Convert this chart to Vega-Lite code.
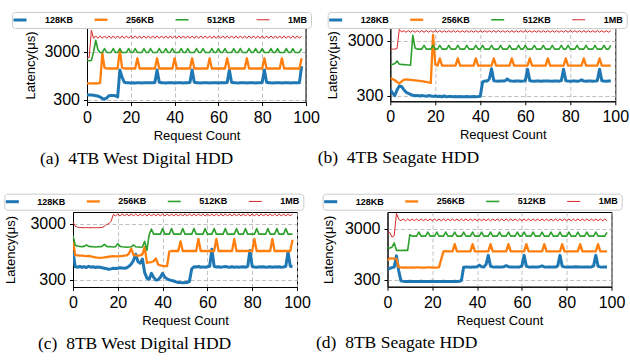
{
"$schema": "https://vega.github.io/schema/vega-lite/v6.json",
"padding": {"left": 3, "top": 11, "right": 0, "bottom": 0},
"spacing": 25,
"resolve": {"scale": {"color": "independent", "strokeWidth": "independent"}, "legend": {"color": "independent", "strokeWidth": "independent"}},
"config": {
  "font": "Liberation Sans",
  "view": {"stroke": "#000", "strokeWidth": 1},
  "axis": {"labelFont": "Liberation Sans", "labelFontSize": 16, "labelColor": "#000", "titleFont": "Liberation Sans", "titleFontSize": 13, "titleFontWeight": "normal", "titleColor": "#000", "domainColor": "#000", "tickColor": "#000", "tickSize": 3.5, "labelPadding": 4, "gridColor": "#b0b0b0", "gridDash": [4, 2.5], "gridWidth": 0.8, "grid": true, "labelFlush": false, "labelOverlap": false},
  "axisX": {"titlePadding": 4},
  "legend": {"symbolSize": 42.25, "symbolOffset": 0, "labelFont": "Liberation Sans", "labelFontSize": 9, "labelFontWeight": "bold", "labelColor": "#000", "labelOffset": 20, "columnPadding": 19, "padding": 3, "strokeColor": "#cccccc", "cornerRadius": 3, "fillColor": "#ffffff", "gridAlign": "all", "rowPadding": 0},
  "title": {"orient": "bottom", "anchor": "start", "frame": "group", "font": "Liberation Serif", "fontSize": 17.5, "fontWeight": "normal", "color": "#000", "offset": 7, "baseline": "top"},
  "line": {"strokeJoin": "round"}
},
"datasets": {
"a": [
{"x":0,"128KB":385,"256KB":660,"512KB":2000,"1MB":2250},
{"x":1,"128KB":382,"256KB":660,"512KB":1950,"1MB":2300},
{"x":2,"128KB":378,"256KB":662,"512KB":1980,"1MB":8400},
{"x":3,"128KB":374,"256KB":660,"512KB":3000,"1MB":5700},
{"x":4,"128KB":368,"256KB":658,"512KB":5200,"1MB":6400},
{"x":5,"128KB":362,"256KB":660,"512KB":3300,"1MB":5700},
{"x":6,"128KB":345,"256KB":680,"512KB":2900,"1MB":6400},
{"x":7,"128KB":322,"256KB":2800,"512KB":2900,"1MB":5700},
{"x":8,"128KB":312,"256KB":1400,"512KB":3500,"1MB":6400},
{"x":9,"128KB":330,"256KB":1350,"512KB":2900,"1MB":5700},
{"x":10,"128KB":368,"256KB":1350,"512KB":2900,"1MB":6400},
{"x":11,"128KB":372,"256KB":1350,"512KB":2900,"1MB":5700},
{"x":12,"128KB":370,"256KB":1350,"512KB":3500,"1MB":6400},
{"x":13,"128KB":366,"256KB":1350,"512KB":2900,"1MB":5700},
{"x":14,"128KB":345,"256KB":1350,"512KB":2900,"1MB":6400},
{"x":15,"128KB":1250,"256KB":3300,"512KB":3500,"1MB":5700},
{"x":16,"128KB":900,"256KB":1400,"512KB":2900,"1MB":6400},
{"x":17,"128KB":700,"256KB":1350,"512KB":2900,"1MB":5700},
{"x":18,"128KB":685,"256KB":1350,"512KB":2900,"1MB":6400},
{"x":19,"128KB":680,"256KB":1350,"512KB":3500,"1MB":5700},
{"x":20,"128KB":675,"256KB":1350,"512KB":2900,"1MB":6400},
{"x":21,"128KB":680,"256KB":1350,"512KB":2900,"1MB":5700},
{"x":22,"128KB":678,"256KB":1350,"512KB":3500,"1MB":6400},
{"x":23,"128KB":682,"256KB":2200,"512KB":2900,"1MB":5700},
{"x":24,"128KB":680,"256KB":1350,"512KB":2900,"1MB":6400},
{"x":25,"128KB":676,"256KB":1350,"512KB":2900,"1MB":5700},
{"x":26,"128KB":680,"256KB":1350,"512KB":3500,"1MB":6400},
{"x":27,"128KB":683,"256KB":1350,"512KB":2900,"1MB":5700},
{"x":28,"128KB":679,"256KB":1350,"512KB":2900,"1MB":6400},
{"x":29,"128KB":680,"256KB":1350,"512KB":3500,"1MB":5700},
{"x":30,"128KB":682,"256KB":1350,"512KB":2900,"1MB":6400},
{"x":31,"128KB":690,"256KB":1350,"512KB":2900,"1MB":5700},
{"x":32,"128KB":1250,"256KB":2200,"512KB":2900,"1MB":6400},
{"x":33,"128KB":700,"256KB":1350,"512KB":3500,"1MB":5700},
{"x":34,"128KB":685,"256KB":1350,"512KB":2900,"1MB":6400},
{"x":35,"128KB":680,"256KB":1350,"512KB":2900,"1MB":5700},
{"x":36,"128KB":678,"256KB":1350,"512KB":3500,"1MB":6400},
{"x":37,"128KB":680,"256KB":1350,"512KB":2900,"1MB":5700},
{"x":38,"128KB":682,"256KB":1350,"512KB":2900,"1MB":6400},
{"x":39,"128KB":680,"256KB":1350,"512KB":3500,"1MB":5700},
{"x":40,"128KB":677,"256KB":2200,"512KB":2900,"1MB":6400},
{"x":41,"128KB":680,"256KB":1350,"512KB":2900,"1MB":5700},
{"x":42,"128KB":683,"256KB":1350,"512KB":2900,"1MB":6400},
{"x":43,"128KB":680,"256KB":1350,"512KB":3500,"1MB":5700},
{"x":44,"128KB":678,"256KB":1350,"512KB":2900,"1MB":6400},
{"x":45,"128KB":680,"256KB":1350,"512KB":2900,"1MB":5700},
{"x":46,"128KB":682,"256KB":1350,"512KB":3500,"1MB":6400},
{"x":47,"128KB":690,"256KB":1350,"512KB":2900,"1MB":5700},
{"x":48,"128KB":1250,"256KB":2200,"512KB":2900,"1MB":6400},
{"x":49,"128KB":700,"256KB":1350,"512KB":2900,"1MB":5700},
{"x":50,"128KB":685,"256KB":1350,"512KB":3500,"1MB":6400},
{"x":51,"128KB":680,"256KB":1350,"512KB":2900,"1MB":5700},
{"x":52,"128KB":678,"256KB":1350,"512KB":2900,"1MB":6400},
{"x":53,"128KB":680,"256KB":1350,"512KB":3500,"1MB":5700},
{"x":54,"128KB":682,"256KB":1350,"512KB":2900,"1MB":6400},
{"x":55,"128KB":680,"256KB":1350,"512KB":2900,"1MB":5700},
{"x":56,"128KB":677,"256KB":2200,"512KB":2900,"1MB":6400},
{"x":57,"128KB":680,"256KB":1350,"512KB":3500,"1MB":5700},
{"x":58,"128KB":683,"256KB":1350,"512KB":2900,"1MB":6400},
{"x":59,"128KB":680,"256KB":1350,"512KB":2900,"1MB":5700},
{"x":60,"128KB":678,"256KB":1350,"512KB":3500,"1MB":6400},
{"x":61,"128KB":680,"256KB":1350,"512KB":2900,"1MB":5700},
{"x":62,"128KB":682,"256KB":1350,"512KB":2900,"1MB":6400},
{"x":63,"128KB":680,"256KB":1350,"512KB":3500,"1MB":5700},
{"x":64,"128KB":690,"256KB":2200,"512KB":2900,"1MB":6400},
{"x":65,"128KB":1250,"256KB":1350,"512KB":2900,"1MB":5700},
{"x":66,"128KB":700,"256KB":1350,"512KB":2900,"1MB":6400},
{"x":67,"128KB":685,"256KB":1350,"512KB":3500,"1MB":5700},
{"x":68,"128KB":680,"256KB":1350,"512KB":2900,"1MB":6400},
{"x":69,"128KB":678,"256KB":1350,"512KB":2900,"1MB":5700},
{"x":70,"128KB":680,"256KB":1350,"512KB":3500,"1MB":6400},
{"x":71,"128KB":682,"256KB":1350,"512KB":2900,"1MB":5700},
{"x":72,"128KB":680,"256KB":1350,"512KB":2900,"1MB":6400},
{"x":73,"128KB":677,"256KB":2200,"512KB":2900,"1MB":5700},
{"x":74,"128KB":680,"256KB":1350,"512KB":3500,"1MB":6400},
{"x":75,"128KB":683,"256KB":1350,"512KB":2900,"1MB":5700},
{"x":76,"128KB":680,"256KB":1350,"512KB":2900,"1MB":6400},
{"x":77,"128KB":678,"256KB":1350,"512KB":3500,"1MB":5700},
{"x":78,"128KB":680,"256KB":1350,"512KB":2900,"1MB":6400},
{"x":79,"128KB":682,"256KB":1350,"512KB":2900,"1MB":5700},
{"x":80,"128KB":690,"256KB":1350,"512KB":3500,"1MB":6400},
{"x":81,"128KB":1250,"256KB":2200,"512KB":2900,"1MB":5700},
{"x":82,"128KB":700,"256KB":1350,"512KB":2900,"1MB":6400},
{"x":83,"128KB":685,"256KB":1350,"512KB":2900,"1MB":5700},
{"x":84,"128KB":680,"256KB":1350,"512KB":3500,"1MB":6400},
{"x":85,"128KB":678,"256KB":1350,"512KB":2900,"1MB":5700},
{"x":86,"128KB":680,"256KB":1350,"512KB":2900,"1MB":6400},
{"x":87,"128KB":682,"256KB":1350,"512KB":3500,"1MB":5700},
{"x":88,"128KB":680,"256KB":1350,"512KB":2900,"1MB":6400},
{"x":89,"128KB":677,"256KB":2200,"512KB":2900,"1MB":5700},
{"x":90,"128KB":680,"256KB":1350,"512KB":2900,"1MB":6400},
{"x":91,"128KB":683,"256KB":1350,"512KB":3500,"1MB":5700},
{"x":92,"128KB":680,"256KB":1350,"512KB":2900,"1MB":6400},
{"x":93,"128KB":678,"256KB":1350,"512KB":2900,"1MB":5700},
{"x":94,"128KB":680,"256KB":1350,"512KB":3500,"1MB":6400},
{"x":95,"128KB":682,"256KB":1350,"512KB":2900,"1MB":5700},
{"x":96,"128KB":680,"256KB":1350,"512KB":2900,"1MB":6400},
{"x":97,"128KB":685,"256KB":1350,"512KB":2900,"1MB":5700},
{"x":98,"128KB":1500,"256KB":2200,"512KB":3500,"1MB":6400}
],
"b": [
{"x":0,"128KB":390,"256KB":620,"512KB":1100,"1MB":2100},
{"x":1,"128KB":330,"256KB":600,"512KB":1100,"1MB":2100},
{"x":2,"128KB":300,"256KB":570,"512KB":1150,"1MB":2100},
{"x":3,"128KB":380,"256KB":530,"512KB":1280,"1MB":2150},
{"x":4,"128KB":450,"256KB":500,"512KB":1120,"1MB":4800},
{"x":5,"128KB":440,"256KB":540,"512KB":1100,"1MB":4300},
{"x":6,"128KB":385,"256KB":580,"512KB":1095,"1MB":4550},
{"x":7,"128KB":345,"256KB":590,"512KB":1090,"1MB":4250},
{"x":8,"128KB":330,"256KB":585,"512KB":1080,"1MB":4550},
{"x":9,"128KB":315,"256KB":578,"512KB":1070,"1MB":4250},
{"x":10,"128KB":305,"256KB":572,"512KB":3750,"1MB":4550},
{"x":11,"128KB":298,"256KB":566,"512KB":2200,"1MB":4250},
{"x":12,"128KB":302,"256KB":560,"512KB":2100,"1MB":4550},
{"x":13,"128KB":295,"256KB":555,"512KB":2100,"1MB":4250},
{"x":14,"128KB":300,"256KB":548,"512KB":2100,"1MB":4550},
{"x":15,"128KB":296,"256KB":540,"512KB":2450,"1MB":4250},
{"x":16,"128KB":292,"256KB":532,"512KB":2100,"1MB":4550},
{"x":17,"128KB":300,"256KB":520,"512KB":2100,"1MB":4250},
{"x":18,"128KB":295,"256KB":510,"512KB":2100,"1MB":4550},
{"x":19,"128KB":290,"256KB":3800,"512KB":2450,"1MB":4250},
{"x":20,"128KB":294,"256KB":1100,"512KB":2100,"1MB":4550},
{"x":21,"128KB":288,"256KB":1050,"512KB":2100,"1MB":4250},
{"x":22,"128KB":292,"256KB":1420,"512KB":2450,"1MB":4550},
{"x":23,"128KB":286,"256KB":1050,"512KB":2100,"1MB":4250},
{"x":24,"128KB":295,"256KB":1050,"512KB":2100,"1MB":4550},
{"x":25,"128KB":284,"256KB":1050,"512KB":2100,"1MB":4250},
{"x":26,"128KB":290,"256KB":1050,"512KB":2450,"1MB":4550},
{"x":27,"128KB":288,"256KB":1050,"512KB":2100,"1MB":4250},
{"x":28,"128KB":286,"256KB":1050,"512KB":2100,"1MB":4550},
{"x":29,"128KB":288,"256KB":1050,"512KB":2100,"1MB":4250},
{"x":30,"128KB":287,"256KB":1420,"512KB":2450,"1MB":4550},
{"x":31,"128KB":288,"256KB":1050,"512KB":2100,"1MB":4250},
{"x":32,"128KB":286,"256KB":1050,"512KB":2100,"1MB":4550},
{"x":33,"128KB":287,"256KB":1050,"512KB":2100,"1MB":4250},
{"x":34,"128KB":288,"256KB":1050,"512KB":2450,"1MB":4550},
{"x":35,"128KB":287,"256KB":1050,"512KB":2100,"1MB":4250},
{"x":36,"128KB":286,"256KB":1050,"512KB":2100,"1MB":4550},
{"x":37,"128KB":288,"256KB":1050,"512KB":2100,"1MB":4250},
{"x":38,"128KB":287,"256KB":1420,"512KB":2450,"1MB":4550},
{"x":39,"128KB":288,"256KB":1050,"512KB":2100,"1MB":4250},
{"x":40,"128KB":292,"256KB":1050,"512KB":2100,"1MB":4550},
{"x":41,"128KB":530,"256KB":1050,"512KB":2450,"1MB":4250},
{"x":42,"128KB":550,"256KB":1050,"512KB":2100,"1MB":4550},
{"x":43,"128KB":550,"256KB":1050,"512KB":2100,"1MB":4250},
{"x":44,"128KB":600,"256KB":1050,"512KB":2100,"1MB":4550},
{"x":45,"128KB":920,"256KB":1050,"512KB":2450,"1MB":4250},
{"x":46,"128KB":560,"256KB":1420,"512KB":2100,"1MB":4550},
{"x":47,"128KB":550,"256KB":1050,"512KB":2100,"1MB":4250},
{"x":48,"128KB":548,"256KB":1050,"512KB":2100,"1MB":4550},
{"x":49,"128KB":552,"256KB":1050,"512KB":2450,"1MB":4250},
{"x":50,"128KB":550,"256KB":1050,"512KB":2100,"1MB":4550},
{"x":51,"128KB":555,"256KB":1050,"512KB":2100,"1MB":4250},
{"x":52,"128KB":600,"256KB":1050,"512KB":2100,"1MB":4550},
{"x":53,"128KB":560,"256KB":1050,"512KB":2450,"1MB":4250},
{"x":54,"128KB":550,"256KB":1420,"512KB":2100,"1MB":4550},
{"x":55,"128KB":548,"256KB":1050,"512KB":2100,"1MB":4250},
{"x":56,"128KB":552,"256KB":1050,"512KB":2100,"1MB":4550},
{"x":57,"128KB":550,"256KB":1050,"512KB":2450,"1MB":4250},
{"x":58,"128KB":548,"256KB":1050,"512KB":2100,"1MB":4550},
{"x":59,"128KB":552,"256KB":1050,"512KB":2100,"1MB":4250},
{"x":60,"128KB":560,"256KB":1050,"512KB":2450,"1MB":4550},
{"x":61,"128KB":900,"256KB":1050,"512KB":2100,"1MB":4250},
{"x":62,"128KB":560,"256KB":1420,"512KB":2100,"1MB":4550},
{"x":63,"128KB":550,"256KB":1050,"512KB":2100,"1MB":4250},
{"x":64,"128KB":548,"256KB":1050,"512KB":2450,"1MB":4550},
{"x":65,"128KB":552,"256KB":1050,"512KB":2100,"1MB":4250},
{"x":66,"128KB":550,"256KB":1050,"512KB":2100,"1MB":4550},
{"x":67,"128KB":548,"256KB":1050,"512KB":2100,"1MB":4250},
{"x":68,"128KB":552,"256KB":1050,"512KB":2450,"1MB":4550},
{"x":69,"128KB":550,"256KB":1050,"512KB":2100,"1MB":4250},
{"x":70,"128KB":555,"256KB":1420,"512KB":2100,"1MB":4550},
{"x":71,"128KB":550,"256KB":1050,"512KB":2100,"1MB":4250},
{"x":72,"128KB":548,"256KB":1050,"512KB":2450,"1MB":4550},
{"x":73,"128KB":552,"256KB":1050,"512KB":2100,"1MB":4250},
{"x":74,"128KB":550,"256KB":1050,"512KB":2100,"1MB":4550},
{"x":75,"128KB":548,"256KB":1050,"512KB":2100,"1MB":4250},
{"x":76,"128KB":560,"256KB":1050,"512KB":2450,"1MB":4550},
{"x":77,"128KB":900,"256KB":1050,"512KB":2100,"1MB":4250},
{"x":78,"128KB":560,"256KB":1420,"512KB":2100,"1MB":4550},
{"x":79,"128KB":550,"256KB":1050,"512KB":2450,"1MB":4250},
{"x":80,"128KB":548,"256KB":1050,"512KB":2100,"1MB":4550},
{"x":81,"128KB":552,"256KB":1050,"512KB":2100,"1MB":4250},
{"x":82,"128KB":550,"256KB":1050,"512KB":2100,"1MB":4550},
{"x":83,"128KB":548,"256KB":1050,"512KB":2450,"1MB":4250},
{"x":84,"128KB":552,"256KB":1050,"512KB":2100,"1MB":4550},
{"x":85,"128KB":580,"256KB":1050,"512KB":2100,"1MB":4250},
{"x":86,"128KB":550,"256KB":1420,"512KB":2100,"1MB":4550},
{"x":87,"128KB":548,"256KB":1050,"512KB":2450,"1MB":4250},
{"x":88,"128KB":552,"256KB":1050,"512KB":2100,"1MB":4550},
{"x":89,"128KB":550,"256KB":1050,"512KB":2100,"1MB":4250},
{"x":90,"128KB":548,"256KB":1050,"512KB":2100,"1MB":4550},
{"x":91,"128KB":552,"256KB":1050,"512KB":2450,"1MB":4250},
{"x":92,"128KB":560,"256KB":1050,"512KB":2100,"1MB":4550},
{"x":93,"128KB":900,"256KB":1420,"512KB":2100,"1MB":4250},
{"x":94,"128KB":560,"256KB":1050,"512KB":2100,"1MB":4550},
{"x":95,"128KB":550,"256KB":1050,"512KB":2450,"1MB":4250},
{"x":96,"128KB":548,"256KB":1050,"512KB":2100,"1MB":4550},
{"x":97,"128KB":552,"256KB":1050,"512KB":2100,"1MB":4250},
{"x":98,"128KB":550,"256KB":1050,"512KB":2450,"1MB":4550}
],
"c": [
{"x":0,"128KB":950,"256KB":1450,"512KB":1850,"1MB":3200},
{"x":1,"128KB":510,"256KB":820,"512KB":1230,"1MB":2700},
{"x":2,"128KB":500,"256KB":812,"512KB":1200,"1MB":2600},
{"x":3,"128KB":520,"256KB":805,"512KB":1180,"1MB":2560},
{"x":4,"128KB":500,"256KB":810,"512KB":1170,"1MB":2550},
{"x":5,"128KB":512,"256KB":800,"512KB":1180,"1MB":2540},
{"x":6,"128KB":495,"256KB":792,"512KB":1250,"1MB":2550},
{"x":7,"128KB":520,"256KB":800,"512KB":1180,"1MB":2545},
{"x":8,"128KB":502,"256KB":785,"512KB":1170,"1MB":2540},
{"x":9,"128KB":510,"256KB":765,"512KB":1160,"1MB":2550},
{"x":10,"128KB":495,"256KB":750,"512KB":1150,"1MB":2540},
{"x":11,"128KB":505,"256KB":740,"512KB":1160,"1MB":2545},
{"x":12,"128KB":500,"256KB":738,"512KB":1170,"1MB":2550},
{"x":13,"128KB":490,"256KB":742,"512KB":1180,"1MB":2560},
{"x":14,"128KB":480,"256KB":750,"512KB":1280,"1MB":2700},
{"x":15,"128KB":470,"256KB":760,"512KB":1180,"1MB":2900},
{"x":16,"128KB":460,"256KB":770,"512KB":1170,"1MB":3000},
{"x":17,"128KB":468,"256KB":780,"512KB":1160,"1MB":3300},
{"x":18,"128KB":480,"256KB":790,"512KB":1150,"1MB":4400},
{"x":19,"128KB":475,"256KB":785,"512KB":1160,"1MB":4100},
{"x":20,"128KB":482,"256KB":782,"512KB":1320,"1MB":4500},
{"x":21,"128KB":490,"256KB":790,"512KB":1180,"1MB":4100},
{"x":22,"128KB":485,"256KB":795,"512KB":1160,"1MB":4500},
{"x":23,"128KB":480,"256KB":805,"512KB":1150,"1MB":4100},
{"x":24,"128KB":490,"256KB":815,"512KB":1140,"1MB":4500},
{"x":25,"128KB":520,"256KB":880,"512KB":1150,"1MB":4100},
{"x":26,"128KB":570,"256KB":1080,"512KB":1160,"1MB":4500},
{"x":27,"128KB":660,"256KB":830,"512KB":1250,"1MB":4100},
{"x":28,"128KB":850,"256KB":812,"512KB":1160,"1MB":4500},
{"x":29,"128KB":630,"256KB":805,"512KB":1150,"1MB":4100},
{"x":30,"128KB":590,"256KB":815,"512KB":1140,"1MB":4500},
{"x":31,"128KB":700,"256KB":850,"512KB":1150,"1MB":4100},
{"x":32,"128KB":400,"256KB":1150,"512KB":1450,"1MB":4500},
{"x":33,"128KB":320,"256KB":600,"512KB":1000,"1MB":4100},
{"x":34,"128KB":305,"256KB":610,"512KB":1900,"1MB":4500},
{"x":35,"128KB":390,"256KB":620,"512KB":2400,"1MB":4100},
{"x":36,"128KB":330,"256KB":640,"512KB":1950,"1MB":4500},
{"x":37,"128KB":295,"256KB":720,"512KB":1950,"1MB":4100},
{"x":38,"128KB":298,"256KB":560,"512KB":1950,"1MB":4500},
{"x":39,"128KB":330,"256KB":540,"512KB":1950,"1MB":4100},
{"x":40,"128KB":390,"256KB":530,"512KB":2450,"1MB":4500},
{"x":41,"128KB":330,"256KB":525,"512KB":1950,"1MB":4100},
{"x":42,"128KB":310,"256KB":525,"512KB":1950,"1MB":4500},
{"x":43,"128KB":298,"256KB":950,"512KB":1950,"1MB":4100},
{"x":44,"128KB":290,"256KB":975,"512KB":2450,"1MB":4500},
{"x":45,"128KB":284,"256KB":975,"512KB":1950,"1MB":4100},
{"x":46,"128KB":274,"256KB":975,"512KB":1950,"1MB":4500},
{"x":47,"128KB":268,"256KB":975,"512KB":1950,"1MB":4100},
{"x":48,"128KB":266,"256KB":1450,"512KB":1950,"1MB":4500},
{"x":49,"128KB":265,"256KB":975,"512KB":2450,"1MB":4100},
{"x":50,"128KB":266,"256KB":975,"512KB":1950,"1MB":4500},
{"x":51,"128KB":268,"256KB":975,"512KB":1950,"1MB":4100},
{"x":52,"128KB":280,"256KB":975,"512KB":1950,"1MB":4500},
{"x":53,"128KB":470,"256KB":975,"512KB":1950,"1MB":4100},
{"x":54,"128KB":510,"256KB":975,"512KB":2450,"1MB":4500},
{"x":55,"128KB":505,"256KB":975,"512KB":1950,"1MB":4100},
{"x":56,"128KB":515,"256KB":1600,"512KB":1950,"1MB":4500},
{"x":57,"128KB":500,"256KB":975,"512KB":1950,"1MB":4100},
{"x":58,"128KB":508,"256KB":975,"512KB":1950,"1MB":4500},
{"x":59,"128KB":502,"256KB":975,"512KB":2450,"1MB":4100},
{"x":60,"128KB":510,"256KB":975,"512KB":1950,"1MB":4500},
{"x":61,"128KB":520,"256KB":975,"512KB":1950,"1MB":4100},
{"x":62,"128KB":1050,"256KB":975,"512KB":1950,"1MB":4500},
{"x":63,"128KB":520,"256KB":975,"512KB":2450,"1MB":4100},
{"x":64,"128KB":505,"256KB":1600,"512KB":1950,"1MB":4500},
{"x":65,"128KB":510,"256KB":975,"512KB":1950,"1MB":4100},
{"x":66,"128KB":500,"256KB":975,"512KB":1950,"1MB":4500},
{"x":67,"128KB":508,"256KB":975,"512KB":1950,"1MB":4100},
{"x":68,"128KB":515,"256KB":975,"512KB":2450,"1MB":4500},
{"x":69,"128KB":505,"256KB":975,"512KB":1950,"1MB":4100},
{"x":70,"128KB":500,"256KB":975,"512KB":1950,"1MB":4500},
{"x":71,"128KB":510,"256KB":975,"512KB":1950,"1MB":4100},
{"x":72,"128KB":502,"256KB":1600,"512KB":1950,"1MB":4500},
{"x":73,"128KB":508,"256KB":975,"512KB":2450,"1MB":4100},
{"x":74,"128KB":500,"256KB":975,"512KB":1950,"1MB":4500},
{"x":75,"128KB":505,"256KB":975,"512KB":1950,"1MB":4100},
{"x":76,"128KB":510,"256KB":975,"512KB":1950,"1MB":4500},
{"x":77,"128KB":500,"256KB":975,"512KB":2450,"1MB":4100},
{"x":78,"128KB":520,"256KB":975,"512KB":1950,"1MB":4500},
{"x":79,"128KB":1000,"256KB":975,"512KB":1950,"1MB":4100},
{"x":80,"128KB":515,"256KB":975,"512KB":1950,"1MB":4500},
{"x":81,"128KB":505,"256KB":1600,"512KB":1950,"1MB":4100},
{"x":82,"128KB":500,"256KB":975,"512KB":2450,"1MB":4500},
{"x":83,"128KB":508,"256KB":975,"512KB":1950,"1MB":4100},
{"x":84,"128KB":505,"256KB":975,"512KB":1950,"1MB":4500},
{"x":85,"128KB":510,"256KB":975,"512KB":1950,"1MB":4100},
{"x":86,"128KB":500,"256KB":975,"512KB":1950,"1MB":4500},
{"x":87,"128KB":505,"256KB":975,"512KB":2450,"1MB":4100},
{"x":88,"128KB":512,"256KB":975,"512KB":1950,"1MB":4500},
{"x":89,"128KB":500,"256KB":1600,"512KB":1950,"1MB":4100},
{"x":90,"128KB":508,"256KB":975,"512KB":1950,"1MB":4500},
{"x":91,"128KB":505,"256KB":975,"512KB":2450,"1MB":4100},
{"x":92,"128KB":510,"256KB":975,"512KB":1950,"1MB":4500},
{"x":93,"128KB":500,"256KB":975,"512KB":1950,"1MB":4100},
{"x":94,"128KB":505,"256KB":975,"512KB":1950,"1MB":4500},
{"x":95,"128KB":520,"256KB":975,"512KB":2450,"1MB":4100},
{"x":96,"128KB":940,"256KB":975,"512KB":1950,"1MB":4500},
{"x":97,"128KB":520,"256KB":975,"512KB":1950,"1MB":4100},
{"x":98,"128KB":510,"256KB":1550,"512KB":1950,"1MB":4500}
],
"d": [
{"x":0,"128KB":490,"256KB":720,"512KB":1250,"1MB":2600},
{"x":1,"128KB":500,"256KB":790,"512KB":1250,"1MB":2550},
{"x":2,"128KB":520,"256KB":785,"512KB":1300,"1MB":2050},
{"x":3,"128KB":530,"256KB":775,"512KB":1580,"1MB":2200},
{"x":4,"128KB":880,"256KB":770,"512KB":1130,"1MB":6000},
{"x":5,"128KB":450,"256KB":530,"512KB":1130,"1MB":4600},
{"x":6,"128KB":285,"256KB":525,"512KB":1125,"1MB":4300},
{"x":7,"128KB":280,"256KB":520,"512KB":1130,"1MB":4650},
{"x":8,"128KB":278,"256KB":522,"512KB":1128,"1MB":4300},
{"x":9,"128KB":277,"256KB":520,"512KB":1130,"1MB":4650},
{"x":10,"128KB":279,"256KB":518,"512KB":2300,"1MB":4300},
{"x":11,"128KB":278,"256KB":522,"512KB":2150,"1MB":4650},
{"x":12,"128KB":276,"256KB":520,"512KB":2150,"1MB":4300},
{"x":13,"128KB":278,"256KB":524,"512KB":2150,"1MB":4650},
{"x":14,"128KB":277,"256KB":522,"512KB":2580,"1MB":4300},
{"x":15,"128KB":279,"256KB":520,"512KB":2150,"1MB":4650},
{"x":16,"128KB":278,"256KB":518,"512KB":2150,"1MB":4300},
{"x":17,"128KB":276,"256KB":520,"512KB":2150,"1MB":4650},
{"x":18,"128KB":278,"256KB":522,"512KB":2580,"1MB":4300},
{"x":19,"128KB":277,"256KB":524,"512KB":2150,"1MB":4650},
{"x":20,"128KB":279,"256KB":520,"512KB":2150,"1MB":4300},
{"x":21,"128KB":278,"256KB":518,"512KB":2150,"1MB":4650},
{"x":22,"128KB":276,"256KB":520,"512KB":2580,"1MB":4300},
{"x":23,"128KB":278,"256KB":530,"512KB":2150,"1MB":4650},
{"x":24,"128KB":277,"256KB":760,"512KB":2150,"1MB":4300},
{"x":25,"128KB":279,"256KB":1080,"512KB":2150,"1MB":4650},
{"x":26,"128KB":278,"256KB":1090,"512KB":2580,"1MB":4300},
{"x":27,"128KB":276,"256KB":1080,"512KB":2150,"1MB":4650},
{"x":28,"128KB":278,"256KB":1075,"512KB":2150,"1MB":4300},
{"x":29,"128KB":277,"256KB":1080,"512KB":2150,"1MB":4650},
{"x":30,"128KB":279,"256KB":1500,"512KB":2580,"1MB":4300},
{"x":31,"128KB":278,"256KB":1080,"512KB":2150,"1MB":4650},
{"x":32,"128KB":280,"256KB":1080,"512KB":2150,"1MB":4300},
{"x":33,"128KB":290,"256KB":1080,"512KB":2150,"1MB":4650},
{"x":34,"128KB":530,"256KB":1080,"512KB":2580,"1MB":4300},
{"x":35,"128KB":535,"256KB":1080,"512KB":2150,"1MB":4650},
{"x":36,"128KB":530,"256KB":1080,"512KB":2150,"1MB":4300},
{"x":37,"128KB":528,"256KB":1080,"512KB":2150,"1MB":4650},
{"x":38,"128KB":532,"256KB":1500,"512KB":2580,"1MB":4300},
{"x":39,"128KB":530,"256KB":1080,"512KB":2150,"1MB":4650},
{"x":40,"128KB":540,"256KB":1080,"512KB":2150,"1MB":4300},
{"x":41,"128KB":580,"256KB":1080,"512KB":2150,"1MB":4650},
{"x":42,"128KB":540,"256KB":1080,"512KB":2580,"1MB":4300},
{"x":43,"128KB":535,"256KB":1080,"512KB":2150,"1MB":4650},
{"x":44,"128KB":600,"256KB":1080,"512KB":2150,"1MB":4300},
{"x":45,"128KB":900,"256KB":1080,"512KB":2150,"1MB":4650},
{"x":46,"128KB":550,"256KB":1500,"512KB":2580,"1MB":4300},
{"x":47,"128KB":535,"256KB":1080,"512KB":2150,"1MB":4650},
{"x":48,"128KB":530,"256KB":1080,"512KB":2150,"1MB":4300},
{"x":49,"128KB":532,"256KB":1080,"512KB":2150,"1MB":4650},
{"x":50,"128KB":530,"256KB":1080,"512KB":2580,"1MB":4300},
{"x":51,"128KB":535,"256KB":1080,"512KB":2150,"1MB":4650},
{"x":52,"128KB":540,"256KB":1080,"512KB":2150,"1MB":4300},
{"x":53,"128KB":565,"256KB":1080,"512KB":2150,"1MB":4650},
{"x":54,"128KB":540,"256KB":1500,"512KB":2580,"1MB":4300},
{"x":55,"128KB":532,"256KB":1080,"512KB":2150,"1MB":4650},
{"x":56,"128KB":530,"256KB":1080,"512KB":2150,"1MB":4300},
{"x":57,"128KB":535,"256KB":1080,"512KB":2150,"1MB":4650},
{"x":58,"128KB":530,"256KB":1080,"512KB":2580,"1MB":4300},
{"x":59,"128KB":532,"256KB":1080,"512KB":2150,"1MB":4650},
{"x":60,"128KB":560,"256KB":1080,"512KB":2150,"1MB":4300},
{"x":61,"128KB":900,"256KB":1080,"512KB":2580,"1MB":4650},
{"x":62,"128KB":550,"256KB":1500,"512KB":2150,"1MB":4300},
{"x":63,"128KB":535,"256KB":1080,"512KB":2150,"1MB":4650},
{"x":64,"128KB":530,"256KB":1080,"512KB":2150,"1MB":4300},
{"x":65,"128KB":532,"256KB":1080,"512KB":2580,"1MB":4650},
{"x":66,"128KB":530,"256KB":1080,"512KB":2150,"1MB":4300},
{"x":67,"128KB":535,"256KB":1080,"512KB":2150,"1MB":4650},
{"x":68,"128KB":540,"256KB":1080,"512KB":2150,"1MB":4300},
{"x":69,"128KB":560,"256KB":1080,"512KB":2580,"1MB":4650},
{"x":70,"128KB":535,"256KB":1500,"512KB":2150,"1MB":4300},
{"x":71,"128KB":530,"256KB":1080,"512KB":2150,"1MB":4650},
{"x":72,"128KB":532,"256KB":1080,"512KB":2150,"1MB":4300},
{"x":73,"128KB":530,"256KB":1080,"512KB":2580,"1MB":4650},
{"x":74,"128KB":535,"256KB":1080,"512KB":2150,"1MB":4300},
{"x":75,"128KB":530,"256KB":1080,"512KB":2150,"1MB":4650},
{"x":76,"128KB":560,"256KB":1080,"512KB":2150,"1MB":4300},
{"x":77,"128KB":900,"256KB":1080,"512KB":2580,"1MB":4650},
{"x":78,"128KB":550,"256KB":1500,"512KB":2150,"1MB":4300},
{"x":79,"128KB":535,"256KB":1080,"512KB":2150,"1MB":4650},
{"x":80,"128KB":530,"256KB":1080,"512KB":2150,"1MB":4300},
{"x":81,"128KB":532,"256KB":1080,"512KB":2580,"1MB":4650},
{"x":82,"128KB":530,"256KB":1080,"512KB":2150,"1MB":4300},
{"x":83,"128KB":535,"256KB":1080,"512KB":2150,"1MB":4650},
{"x":84,"128KB":540,"256KB":1080,"512KB":2150,"1MB":4300},
{"x":85,"128KB":532,"256KB":1080,"512KB":2580,"1MB":4650},
{"x":86,"128KB":530,"256KB":1500,"512KB":2150,"1MB":4300},
{"x":87,"128KB":535,"256KB":1080,"512KB":2150,"1MB":4650},
{"x":88,"128KB":530,"256KB":1080,"512KB":2150,"1MB":4300},
{"x":89,"128KB":532,"256KB":1080,"512KB":2580,"1MB":4650},
{"x":90,"128KB":530,"256KB":1080,"512KB":2150,"1MB":4300},
{"x":91,"128KB":535,"256KB":1080,"512KB":2150,"1MB":4650},
{"x":92,"128KB":560,"256KB":1080,"512KB":2150,"1MB":4300},
{"x":93,"128KB":900,"256KB":1080,"512KB":2580,"1MB":4650},
{"x":94,"128KB":550,"256KB":1500,"512KB":2150,"1MB":4300},
{"x":95,"128KB":535,"256KB":1080,"512KB":2150,"1MB":4650},
{"x":96,"128KB":530,"256KB":1080,"512KB":2150,"1MB":4300},
{"x":97,"128KB":532,"256KB":1080,"512KB":2150,"1MB":4650},
{"x":98,"128KB":530,"256KB":1080,"512KB":2550,"1MB":4300}
]
},
"vconcat": [
{"bounds": "flush", "spacing": 84.3,
 "resolve": {"scale": {"color": "independent", "strokeWidth": "independent"}, "legend": {"color": "independent", "strokeWidth": "independent"}},
 "hconcat": [
 {"width": 233, "height": 74, "view": {"stroke": null},
  "layer": [
   {"data": {"name": "a"},
    "transform": [{"fold": ["128KB","256KB","512KB","1MB"], "as": ["size","latency"]}],
    "mark": {"type": "line", "clip": true},
    "encoding": {
     "x": {"field": "x", "type": "quantitative", "scale": {"domain": [0,100], "range": [14,233], "nice": false, "zero": false}, "axis": {"values": [0,20,40,60,80,100], "title": "Request Count"}},
     "y": {"field": "latency", "type": "quantitative", "scale": {"type": "log", "domain": [272,9340], "nice": false}, "axis": {"values": [300,3000], "format": "d", "title": "Latency(μs)", "titlePadding": 6, "offset": -14}},
     "color": {"field": "size", "type": "nominal", "scale": {"domain": ["128KB","256KB","512KB","1MB"], "range": ["#1f77b4","#ff7f0e","#2ca02c","#d62728"]}, "legend": {"orient": "none", "legendX": -61, "legendY": -16, "direction": "horizontal", "columns": 4, "title": null, "symbolType": "M-2,0H2"}},
     "strokeWidth": {"field": "size", "type": "nominal", "scale": {"type": "ordinal", "domain": ["128KB","256KB","512KB","1MB"], "range": [3,2.3,1.6,1]}, "legend": {"orient": "none", "legendX": -61, "legendY": -16, "direction": "horizontal", "columns": 4, "title": null, "symbolType": "M-2,0H2"}}
    }
   },
   {"data": {"values": [{}]}, "mark": {"type": "rule", "color": "#000", "strokeWidth": 1}, "encoding": {"x": {"datum": 100}}},
   {"data": {"values": [{}]}, "mark": {"type": "rule", "color": "#000", "strokeWidth": 1}, "encoding": {"x": {"datum": 0}, "x2": {"datum": 100}, "y": {"datum": 9340}}}
  ],
  "title": {"text": "(a)\u00a0\u00a04TB West Digital HDD", "dx": -33}
 },
 {"width": 225, "height": 73.3, "data": {"name": "b"},
  "transform": [{"fold": ["128KB","256KB","512KB","1MB"], "as": ["size","latency"]}],
  "mark": {"type": "line", "clip": true},
  "encoding": {
   "x": {"field": "x", "type": "quantitative", "scale": {"domain": [0,100], "nice": false, "zero": false}, "axis": {"values": [0,20,40,60,80,100], "title": "Request Count"}},
   "y": {"field": "latency", "type": "quantitative", "scale": {"type": "log", "domain": [236,5080], "nice": false}, "axis": {"values": [300,3000], "format": "d", "title": "Latency(μs)", "titlePadding": 8}},
   "color": {"field": "size", "type": "nominal", "scale": {"domain": ["128KB","256KB","512KB","1MB"], "range": ["#1f77b4","#ff7f0e","#2ca02c","#d62728"]}, "legend": {"orient": "none", "legendX": -62.6, "legendY": -16, "direction": "horizontal", "columns": 4, "title": null, "symbolType": "M-2,0H2"}},
   "strokeWidth": {"field": "size", "type": "nominal", "scale": {"type": "ordinal", "domain": ["128KB","256KB","512KB","1MB"], "range": [3,2.3,1.6,1]}, "legend": {"orient": "none", "legendX": -62.6, "legendY": -16, "direction": "horizontal", "columns": 4, "title": null, "symbolType": "M-2,0H2"}}
  },
  "title": {"text": "(b)\u00a0\u00a04TB Seagate HDD", "dx": -72.6}
 }
]},
{"bounds": "flush", "spacing": 90.5,
 "resolve": {"scale": {"color": "independent", "strokeWidth": "independent"}, "legend": {"color": "independent", "strokeWidth": "independent"}},
 "hconcat": [
 {"width": 224, "height": 75, "data": {"name": "c"},
  "transform": [{"fold": ["128KB","256KB","512KB","1MB"], "as": ["size","latency"]}],
  "mark": {"type": "line", "clip": true},
  "encoding": {
   "x": {"field": "x", "type": "quantitative", "scale": {"domain": [0,100], "nice": false, "zero": false}, "axis": {"values": [0,20,40,60,80,100], "title": "Request Count"}},
   "y": {"field": "latency", "type": "quantitative", "scale": {"type": "log", "domain": [222,4850], "nice": false}, "axis": {"values": [300,3000], "format": "d", "title": "Latency(μs)", "titlePadding": 12}},
   "color": {"field": "size", "type": "nominal", "scale": {"domain": ["128KB","256KB","512KB","1MB"], "range": ["#1f77b4","#ff7f0e","#2ca02c","#d62728"]}, "legend": {"orient": "none", "legendX": -68.7, "legendY": -18.3, "direction": "horizontal", "columns": 4, "title": null, "symbolType": "M-2,0H2"}},
   "strokeWidth": {"field": "size", "type": "nominal", "scale": {"type": "ordinal", "domain": ["128KB","256KB","512KB","1MB"], "range": [3,2.3,1.6,1]}, "legend": {"orient": "none", "legendX": -68.7, "legendY": -18.3, "direction": "horizontal", "columns": 4, "title": null, "symbolType": "M-2,0H2"}}
  },
  "title": {"text": "(c)\u00a0\u00a08TB West Digital HDD", "dx": -35}
 },
 {"width": 224, "height": 74.7, "data": {"name": "d"},
  "transform": [{"fold": ["128KB","256KB","512KB","1MB"], "as": ["size","latency"]}],
  "mark": {"type": "line", "clip": true},
  "encoding": {
   "x": {"field": "x", "type": "quantitative", "scale": {"domain": [0,100], "nice": false, "zero": false}, "axis": {"values": [0,20,40,60,80,100], "title": "Request Count"}},
   "y": {"field": "latency", "type": "quantitative", "scale": {"type": "log", "domain": [219,6380], "nice": false}, "axis": {"values": [300,3000], "format": "d", "title": "Latency(μs)", "titlePadding": 9}},
   "color": {"field": "size", "type": "nominal", "scale": {"domain": ["128KB","256KB","512KB","1MB"], "range": ["#1f77b4","#ff7f0e","#2ca02c","#d62728"]}, "legend": {"orient": "none", "legendX": -64.8, "legendY": -18.3, "direction": "horizontal", "columns": 4, "title": null, "symbolType": "M-2,0H2"}},
   "strokeWidth": {"field": "size", "type": "nominal", "scale": {"type": "ordinal", "domain": ["128KB","256KB","512KB","1MB"], "range": [3,2.3,1.6,1]}, "legend": {"orient": "none", "legendX": -64.8, "legendY": -18.3, "direction": "horizontal", "columns": 4, "title": null, "symbolType": "M-2,0H2"}}
  },
  "title": {"text": "(d)\u00a0\u00a08TB Seagate HDD", "dx": -71.5}
 }
]}
]
}
